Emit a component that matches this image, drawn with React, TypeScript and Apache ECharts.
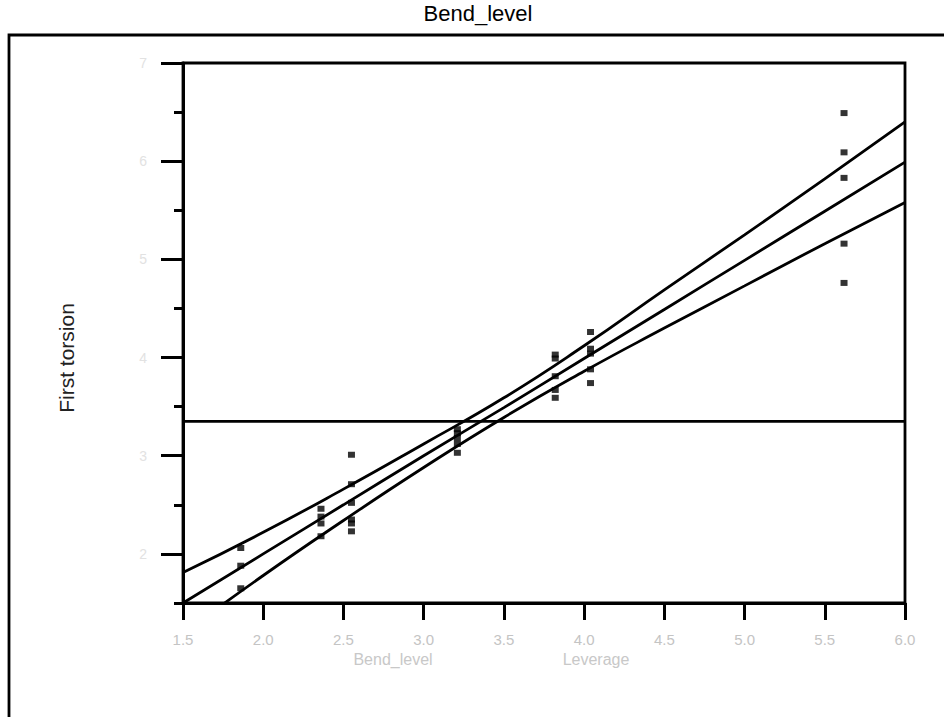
import React, { useEffect, useRef } from "react";
import * as echarts from "echarts";

// ---- data ----
const bendLevel = [
  1.86, 1.86, 1.86,
  2.36, 2.36, 2.36, 2.36,
  2.55, 2.55, 2.55, 2.55, 2.55, 2.55,
  3.21, 3.21, 3.21, 3.21, 3.21,
  3.82, 3.82, 3.82, 3.82, 3.82,
  4.04, 4.04, 4.04, 4.04, 4.04,
  5.62, 5.62, 5.62, 5.62, 5.62,
];
const firstTorsion = [
  2.06, 1.88, 1.65,
  2.46, 2.38, 2.31, 2.18,
  3.01, 2.71, 2.52, 2.35, 2.31, 2.23,
  3.27, 3.23, 3.18, 3.12, 3.03,
  4.03, 3.99, 3.81, 3.67, 3.59,
  4.26, 4.09, 4.04, 3.88, 3.74,
  6.49, 6.09, 5.83, 5.16, 4.76,
];
const curveX = [1.5, 2.0, 2.5, 3.0, 3.5, 4.0, 4.5, 5.0, 5.5, 6.0];
const fitY = [1.5, 2.0, 2.5, 3.0, 3.49, 3.99, 4.49, 4.99, 5.49, 5.99];
const upperY = [1.81, 2.22, 2.66, 3.12, 3.59, 4.12, 4.69, 5.25, 5.82, 6.4];
const lowerY = [1.19, 1.78, 2.34, 2.88, 3.39, 3.86, 4.3, 4.73, 5.16, 5.58];
const meanTorsion = 3.35;
const xMin = 1.5;
const xMax = 6.0;
const yMin = 1.5;
const yMax = 7.0;
const yMajorTicks = [2, 3, 4, 5, 6, 7];

const FONT = "'Liberation Sans', Arial, sans-serif";

export default function App() {
  const ref = useRef<HTMLDivElement>(null);
  useEffect(() => {
    document.body.style.margin = "0";
    const chart = echarts.init(ref.current!, null, { renderer: "svg" });
    const lineStyle = { color: "#000", width: 2.8 };
    const pts = bendLevel.map((x, i) => [x, firstTorsion[i]]);
    const mk = (ys: number[]) => curveX.map((x, i) => [x, ys[i]]);
    chart.setOption({
      animation: false,
      backgroundColor: "#fff",
      grid: {
        left: 183,
        right: 39,
        top: 63,
        bottom: 114,
        show: true,
        borderColor: "#000",
        borderWidth: 2.8,
      },
      xAxis: {
        type: "value",
        min: xMin,
        max: xMax,
        interval: 0.5,
        axisLine: { lineStyle: { color: "#000", width: 3 } },
        axisTick: { length: 17, lineStyle: { color: "#000", width: 3 } },
        axisLabel: {
          formatter: (v: number) => v.toFixed(1),
          color: "#c4c4c4",
          fontSize: 15,
          fontFamily: FONT,
          margin: 29,
        },
        splitLine: { show: false },
      },
      yAxis: [
        {
          type: "value",
          min: yMin,
          max: yMax,
          interval: 0.5,
          axisLine: { show: true, lineStyle: { color: "#000", width: 3 } },
          axisTick: { show: true, length: 9, lineStyle: { color: "#000", width: 3 } },
          axisLabel: { show: false },
          splitLine: { show: false },
        },
        {
          type: "value",
          position: "left",
          min: yMin,
          max: yMax,
          interval: 0.5,
          axisLine: { show: false },
          axisTick: {
            show: true,
            length: 22,
            customValues: yMajorTicks,
            lineStyle: { color: "#000", width: 3 },
          },
          axisLabel: {
            show: true,
            customValues: yMajorTicks,
            color: "#e2e2e2",
            fontSize: 14,
            fontFamily: FONT,
            margin: 36,
          },
          splitLine: { show: false },
        },
      ],
      series: [
        {
          type: "line",
          data: [[xMin, meanTorsion], [xMax, meanTorsion]],
          showSymbol: false,
          lineStyle,
          silent: true,
        },
        { type: "line", data: mk(fitY), showSymbol: false, lineStyle, smooth: true },
        { type: "line", data: mk(upperY), showSymbol: false, lineStyle, smooth: true },
        { type: "line", data: mk(lowerY), showSymbol: false, lineStyle, smooth: true },
        {
          type: "scatter",
          data: pts,
          symbol: "rect",
          symbolSize: [7, 6],
          itemStyle: { color: "#000" },
        },
      ],
      graphic: [
        {
          type: "rect",
          shape: { x: 9, y: 35, width: 950, height: 700 },
          style: { fill: "none", stroke: "#000", lineWidth: 2.8 },
          silent: true,
        },
        {
          type: "text",
          x: 478,
          y: 2,
          style: {
            text: "Bend_level",
            fill: "#000",
            font: `22px ${FONT}`,
            textAlign: "center",
          },
        },
        {
          type: "text",
          x: 56,
          y: 358,
          rotation: Math.PI / 2,
          style: {
            text: "First torsion",
            fill: "#222",
            font: `21px ${FONT}`,
            textAlign: "center",
          },
        },
        {
          type: "text",
          x: 393,
          y: 651,
          style: {
            text: "Bend_level",
            fill: "#c8c8c8",
            font: `16px ${FONT}`,
            textAlign: "center",
          },
        },
        {
          type: "text",
          x: 596,
          y: 651,
          style: {
            text: "Leverage",
            fill: "#c8c8c8",
            font: `16px ${FONT}`,
            textAlign: "center",
          },
        },
      ],
    });
    return () => chart.dispose();
  }, []);
  return <div ref={ref} style={{ width: 944, height: 717 }} />;
}
